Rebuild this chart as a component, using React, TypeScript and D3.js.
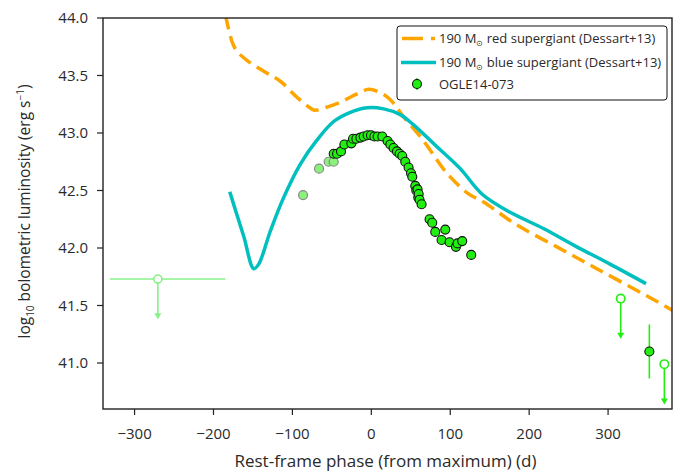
import * as d3 from 'd3';

const W = 676;
const H = 472;
const M = { top: 18, right: 4, bottom: 63, left: 103 };

// 190 Msun red supergiant model (Dessart+13)
const rsgPhase = [-190, -176.3, -170, -157.3, -132, -115.2, -94.1, -73, -68.7, -38.6, -18.1, -3.4, 11.4, 24.1, 40.9, 62, 74.7, 95.8, 123.2, 142.2, 184.4, 235.1, 285.7, 344.7, 378.5, 390];
const rsgLum = [44.2, 43.79, 43.71, 43.63, 43.52, 43.45, 43.31, 43.2, 43.2, 43.27, 43.34, 43.38, 43.35, 43.29, 43.14, 42.97, 42.85, 42.65, 42.47, 42.4, 42.2, 42.01, 41.82, 41.6, 41.47, 41.42];

// 190 Msun blue supergiant model (Dessart+13)
const bsgPhase = [-179.4, -172.2, -161.6, -149, -142.7, -127.8, -111, -89.9, -68.7, -47.7, -26.6, -5.4, 15.6, 36.7, 53.5, 83.2, 112.7, 140.1, 175.9, 218.1, 260.4, 302.5, 348.1];
const bsgLum = [42.49, 42.33, 42.1, 41.82, 41.86, 42.15, 42.44, 42.73, 42.94, 43.1, 43.18, 43.22, 43.21, 43.16, 43.07, 42.88, 42.69, 42.47, 42.31, 42.17, 42.01, 41.86, 41.69];

// OGLE14-073 detections
const obsPhase = [-47.7, -43.4, -38.4, -34.2, -25.3, -23.2, -19, -13.9, -9.7, -4.7, -0.4, 3.8, 8, 13.9, 20.6, 24.1, 28.2, 32.5, 35.8, 39.2, 43, 47.2, 50.3, 51.9, 55.7, 57, 58.6, 59.5, 60, 61.1, 63.7, 73.8, 77.2, 81, 93.7, 89, 99.1, 107.2, 109.2, 115.2, 126.6];
const obsLum = [42.82, 42.82, 42.84, 42.9, 42.91, 42.95, 42.95, 42.96, 42.97, 42.98, 42.98, 42.97, 42.97, 42.97, 42.93, 42.9, 42.87, 42.84, 42.82, 42.8, 42.75, 42.7, 42.65, 42.62, 42.54, 42.5, 42.51, 42.44, 42.47, 42.42, 42.38, 42.25, 42.22, 42.14, 42.16, 42.07, 42.05, 42.01, 42.04, 42.06, 41.94];

// early, less certain points (faded)
const earlyPhase = [-86.5, -66.2, -54.1, -47.7];
const earlyLum = [42.46, 42.69, 42.75, 42.75];

// late detection with error bar
const latePhase = [352.3];
const lateLum = [41.1];
const lateErr = [0.235];

// upper limits
const limPhase = [316, 371.3];
const limLum = [41.56, 40.99];
const preLimPhase = -270.5;
const preLimLum = 41.73;
const preLimRange = [-331.3, -184.8];
const ARROW_DEX = 0.35;

const xTicks = [-300, -200, -100, 0, 100, 200, 300];
const yTicks = [41.0, 41.5, 42.0, 42.5, 43.0, 43.5, 44.0];

const FONT = "'Open Sans', 'Noto Sans', sans-serif";
const ORANGE = '#ffa500';
const CYAN = '#00bfbf';
const GREEN = '#22ee11';
const LIGHT = '#88f088';
const AXIS = '#222';
const TEXT = '#2a2a2a';

function Sun() {
  return (
    <tspan fontSize={8} dy={3}>
      ⊙
    </tspan>
  );
}

function Arrow({ x, y1, y2, color }: { x: number; y1: number; y2: number; color: string }) {
  return (
    <g>
      <line x1={x} x2={x} y1={y1} y2={y2 - 5} stroke={color} strokeWidth={1.6} />
      <path d={`M${x - 3.5},${y2 - 6} L${x + 3.5},${y2 - 6} L${x},${y2} Z`} fill={color} />
    </g>
  );
}

export default function App() {
  const iw = W - M.left - M.right;
  const ih = H - M.top - M.bottom;
  const x = d3.scaleLinear().domain([-340, 381]).range([0, iw]);
  const y = d3.scaleLinear().domain([40.6, 44.0]).range([ih, 0]);

  const line = d3
    .line<[number, number]>()
    .x((d) => x(d[0]))
    .y((d) => y(d[1]))
    .curve(d3.curveCatmullRom.alpha(0.5));

  const rsg = line(rsgPhase.map((p, i) => [p, rsgLum[i]]));
  const bsg = line(bsgPhase.map((p, i) => [p, bsgLum[i]]));

  return (
    <svg width={W} height={H} style={{ position: 'absolute', left: 0, top: 0, background: '#fff' }} fontFamily={FONT}>
      <defs>
        <clipPath id="plot">
          <rect x={0} y={0} width={iw} height={ih} />
        </clipPath>
      </defs>
      <g transform={`translate(${M.left},${M.top})`}>
        <g clipPath="url(#plot)">
          <path d={rsg ?? ''} fill="none" stroke={ORANGE} strokeWidth={3.5} strokeDasharray="14,7" />
          <path d={bsg ?? ''} fill="none" stroke={CYAN} strokeWidth={3.5} strokeLinejoin="round" />

          {/* pre-explosion limit */}
          <line x1={x(preLimRange[0])} x2={x(preLimRange[1])} y1={y(preLimLum)} y2={y(preLimLum)} stroke={LIGHT} strokeWidth={1.6} />
          <Arrow x={x(preLimPhase)} y1={y(preLimLum)} y2={y(preLimLum - ARROW_DEX)} color={LIGHT} />
          <circle cx={x(preLimPhase)} cy={y(preLimLum)} r={4} fill="#fff" stroke={LIGHT} strokeWidth={1.6} />

          {earlyPhase.map((p, i) => (
            <circle key={'e' + i} cx={x(p)} cy={y(earlyLum[i])} r={4.5} fill="#8cf07c" stroke="#8a8a8a" strokeWidth={1.2} />
          ))}
          {obsPhase.map((p, i) => (
            <circle key={'o' + i} cx={x(p)} cy={y(obsLum[i])} r={4.5} fill={GREEN} stroke="#111" strokeWidth={1.1} />
          ))}

          {latePhase.map((p, i) => (
            <g key={'l' + i}>
              <line x1={x(p)} x2={x(p)} y1={y(lateLum[i] + lateErr[i])} y2={y(lateLum[i] - lateErr[i])} stroke={GREEN} strokeWidth={1.6} />
              <circle cx={x(p)} cy={y(lateLum[i])} r={4.5} fill={GREEN} stroke="#111" strokeWidth={1.1} />
            </g>
          ))}

          {limPhase.map((p, i) => (
            <g key={'u' + i}>
              <Arrow x={x(p)} y1={y(limLum[i])} y2={y(limLum[i] - ARROW_DEX)} color={GREEN} />
              <circle cx={x(p)} cy={y(limLum[i])} r={4.2} fill="#fff" stroke={GREEN} strokeWidth={1.6} />
            </g>
          ))}
        </g>

        {/* frame */}
        <rect x={0} y={0} width={iw} height={ih} fill="none" stroke={AXIS} strokeWidth={1.4} />

        {xTicks.map((t) => (
          <g key={'x' + t} transform={`translate(${x(t)},${ih})`}>
            <line y1={0} y2={6} stroke={AXIS} strokeWidth={1.2} />
            <text y={30} textAnchor="middle" fontSize={15} fill={TEXT}>
              {t < 0 ? `\u2212${Math.abs(t)}` : t}
            </text>
          </g>
        ))}
        {yTicks.map((t) => (
          <g key={'y' + t} transform={`translate(0,${y(t)})`}>
            <line x1={0} x2={-6} stroke={AXIS} strokeWidth={1.2} />
            <text x={-15} dy="0.36em" textAnchor="end" fontSize={15} fill={TEXT}>
              {t.toFixed(1)}
            </text>
          </g>
        ))}

        <text x={iw / 2 - 2} y={ih + 58} textAnchor="middle" fontSize={17} fill={TEXT}>
          Rest-frame phase (from maximum) (d)
        </text>
        <text transform={`translate(-73,${ih / 2 - 2}) rotate(-90)`} textAnchor="middle" fontSize={15.5} fill={TEXT}>
          log
          <tspan fontSize={10} dy={4}>10</tspan>
          <tspan dy={-4}> bolometric luminosity (erg s</tspan>
          <tspan fontSize={10} dy={-6}>−1</tspan>
          <tspan dy={6}>)</tspan>
        </text>

        {/* legend */}
        <g transform={`translate(${397 - M.left},${26 - M.top})`}>
          <rect x={0} y={0} width={270} height={74} rx={3} fill="#fff" stroke="#111" strokeWidth={1} />
          <line x1={5} x2={38} y1={12.5} y2={12.5} stroke={ORANGE} strokeWidth={3.5} strokeDasharray="21,8" />
          <text x={42} y={17} fontSize={13} fill={TEXT}>
            190 M<Sun />
            <tspan dy={-3}> red supergiant (Dessart+13)</tspan>
          </text>
          <line x1={4} x2={39} y1={36.5} y2={36.5} stroke={CYAN} strokeWidth={3.5} />
          <text x={42} y={41} fontSize={13} fill={TEXT}>
            190 M<Sun />
            <tspan dy={-3}> blue supergiant (Dessart+13)</tspan>
          </text>
          <line x1={20} x2={20} y1={52} y2={64} stroke={GREEN} strokeWidth={1.6} />
          <circle cx={20} cy={58} r={4.5} fill={GREEN} stroke="#111" strokeWidth={1.1} />
          <text x={42} y={63} fontSize={13} fill={TEXT}>
            OGLE14-073
          </text>
        </g>
      </g>
    </svg>
  );
}
